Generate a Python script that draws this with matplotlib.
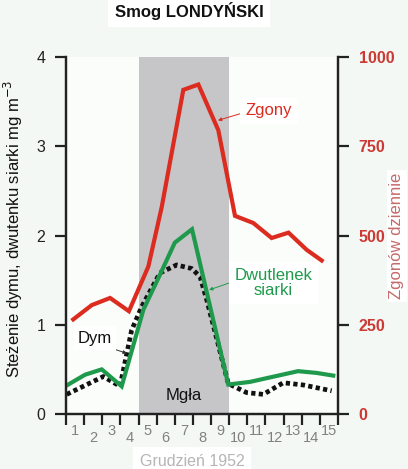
import numpy as np
import matplotlib
matplotlib.use("Agg")
import matplotlib.pyplot as plt

plt.rcParams["font.family"] = ["Liberation Sans", "DejaVu Sans"]

# dni grudnia 1952 (etykiety osi x)
days = list(range(1, 16))

# zgony dziennie (prawa oś) - pozycje
deaths_x = [0.4, 1.42, 2.43, 3.47, 4.54, 5.28, 6.47, 7.3, 8.4, 9.32, 10.33, 11.34, 12.27, 13.27, 14.1]
deaths = [265, 305, 325, 288, 413, 580, 908, 923, 795, 555, 535, 493, 508, 460, 430]

# dwutlenek siarki mg m-3
so2_x = [0.04, 1.05, 1.97, 3.07, 4.27, 5.18, 6.0, 6.95, 8.95, 10.15, 12.8, 13.83, 14.74]
so2 = [0.32, 0.44, 0.50, 0.31, 1.17, 1.56, 1.92, 2.07, 0.33, 0.36, 0.48, 0.46, 0.43]

# dym mg m-3
smoke_x = [0.04, 2.06, 2.98, 3.62, 4.17, 5.18, 6.1, 6.93, 7.39, 7.76, 8.95, 9.96, 10.88, 11.98, 13.09, 14.65]
smoke = [0.22, 0.42, 0.31, 0.94, 1.2, 1.58, 1.67, 1.63, 1.54, 1.28, 0.34, 0.24, 0.22, 0.35, 0.325, 0.26]

fog = (4, 9)

red = "#dc2b1f"
green = "#1f9a4c"

fig = plt.figure(figsize=(4.08, 4.69), dpi=100, facecolor="#f4f8f4")
ax = fig.add_axes([66/408, 1-414/469, 272/408, 357/469])
ax.set_facecolor("#fbfdfb")
ax2 = ax.twinx()

ax.axvspan(fog[0], fog[1], color="#c6c6c9", zorder=0, lw=0)

ax.plot(smoke_x, smoke, color="#111111", lw=3.4, ls=(0, (0.9, 0.7)), zorder=3)
ax.plot(so2_x, so2, color=green, lw=3, zorder=4, solid_joinstyle="miter")
ax2.plot(deaths_x, deaths, color=red, lw=3, zorder=4, solid_joinstyle="miter")

ax.set_xlim(0, 15)
ax.set_ylim(0, 4)
ax2.set_ylim(0, 1000)

ax.set_yticks([0, 1, 2, 3, 4])
ax2.set_yticks([0, 250, 500, 750, 1000])
ax.set_xticks(range(16))
ax.set_xticklabels([])

for a in (ax, ax2):
    a.spines["top"].set_visible(False)
    for s in ["left", "right", "bottom"]:
        a.spines[s].set_linewidth(1.6)
        a.spines[s].set_color("#222222")

ax.tick_params(axis="y", length=8, width=1.6, pad=7, labelsize=11.5, colors="#222222")
ax.tick_params(axis="x", length=8, width=1.6, colors="#222222")
ax2.tick_params(axis="y", length=8, width=1.6, pad=7, labelsize=11.5, colors="#222222",
                labelcolor="#cc3a35")
for t in ax2.get_yticklabels():
    t.set_fontweight("bold")

# etykiety dni między znacznikami, na przemian wyżej i niżej
xt = ax.get_xaxis_transform()
for d in days:
    yy = -0.048 if d % 2 == 1 else -0.066
    ax.text(d - 0.5, yy, str(d), transform=xt, ha="center", va="center",
            fontsize=10.5, color="#808080")

fig.text(192/408, 1-461/469, "Grudzień 1952", ha="center", va="center", fontsize=11.5,
         color="#b5b5b5", bbox=dict(facecolor="white", edgecolor="none", pad=5))

fig.text(189/408, 1-11/469, "Smog LONDYŃSKI", ha="center", va="center", fontsize=12,
         fontweight="bold", color="#111111",
         bbox=dict(facecolor="white", edgecolor="none", pad=5))

fig.text(13/408, 1-229/469, "Steżenie dymu, dwutenku siarki mg m$^{-3}$", rotation=90,
         ha="center", va="center", fontsize=12, color="#111111")
fig.text(397/408, 1-236/469, "Zgonów dziennie", rotation=90, ha="center", va="center",
         fontsize=12, color="#c46a6a", zorder=0,
         bbox=dict(facecolor="white", edgecolor="none", pad=2))

# opisy serii
ax.annotate("Zgony", xy=(8.38, 3.29), xytext=(11.2, 3.4), ha="center", va="center",
            fontsize=12, color=red,
            bbox=dict(facecolor="white", edgecolor="none", pad=4),
            arrowprops=dict(arrowstyle="-|>", color=red, lw=0.7, mutation_scale=5,
                            shrinkA=0, shrinkB=0, relpos=(0, 0.4)), zorder=5)
ax.annotate("Dwutlenek\nsiarki", xy=(7.89, 1.39), xytext=(11.42, 1.47), ha="center",
            va="center", fontsize=12, color=green, linespacing=1.05,
            bbox=dict(facecolor="white", edgecolor="none", pad=4),
            arrowprops=dict(arrowstyle="-|>", color=green, lw=0.7, mutation_scale=5,
                            shrinkA=0, shrinkB=0, relpos=(0, 0.55)), zorder=5)
ax.annotate("Dym", xy=(3.35, 0.68), xytext=(1.6, 0.85), ha="center", va="center",
            fontsize=12, color="#111111",
            bbox=dict(facecolor="white", edgecolor="none", pad=3),
            arrowprops=dict(arrowstyle="-|>", color="#333333", lw=0.7, mutation_scale=5,
                            shrinkA=0, shrinkB=0, relpos=(0.75, 0)), zorder=5)
ax.text(6.5, 0.21, "Mgła", ha="center", va="center", fontsize=12, color="#111111")

fig.savefig("out.png", dpi=100, facecolor=fig.get_facecolor())
